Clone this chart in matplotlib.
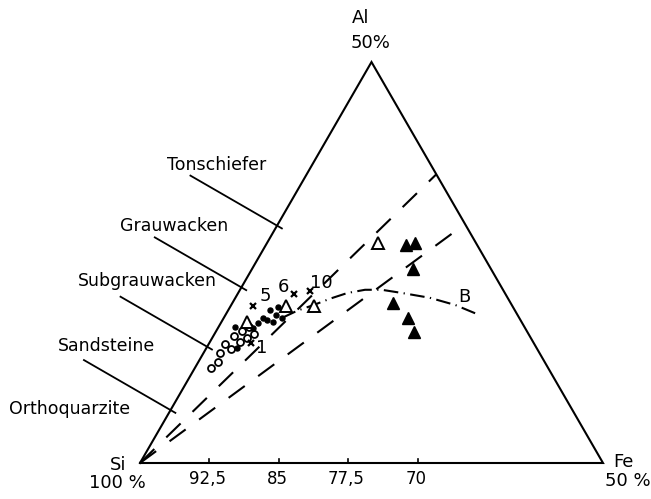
import numpy as np
import matplotlib
matplotlib.use("Agg")
from matplotlib import pyplot as plt

# Ternary diagram Si (100-50 %) - Al (0-50 %) - Fe (0-50 %)
# values are Al % and Fe %

open_circle_al = [11.9, 12.6, 13.7, 14.8, 14.2, 15.8, 15.1, 16.5, 15.6, 17.0, 16.1]
open_circle_fe = [1.7, 2.1, 1.8, 1.8, 2.7, 2.2, 3.3, 2.8, 3.8, 3.3, 4.3]

dot_al = [17.0, 14.3, 16.8, 17.5, 18.1, 17.8, 19.1, 18.5, 19.5, 17.6, 18.1]
dot_fe = [1.8, 3.3, 3.8, 4.0, 4.2, 4.8, 4.5, 5.4, 5.1, 5.6, 6.3]

cross_al = [19.6, 21.1, 21.5, 15.0]
cross_fe = [2.4, 6.1, 7.6, 4.5]
cross_names = ["5", "6", "10", "1"]

open_tri_al = [17.6, 19.6, 19.6, 27.4]
open_tri_fe = [2.8, 6.0, 9.0, 12.0]

filled_tri_al = [27.2, 27.4, 24.2, 20.0, 18.1, 16.3]
filled_tri_fe = [15.1, 16.0, 17.4, 17.3, 19.9, 21.4]

# curve B
curve_b_al = [18.1, 19.0, 19.7, 20.5, 21.2, 21.6, 21.6, 21.2, 20.6, 19.7, 18.5]
curve_b_fe = [6.3, 7.5, 8.9, 10.3, 11.8, 13.5, 15.3, 17.7, 21.0, 24.2, 27.3]

# dashed limit lines: Al % where they meet the Al-Fe side
dash_end_al = [36.0, 29.8]

# rock type boundaries on the Si-Al side (Al %)
rock_names = ["Tonschiefer", "Grauwacken", "Subgrauwacken", "Sandsteine", "Orthoquarzite"]
rock_bound_al = [29.6, 21.9, 14.5, 6.6]

bottom_ticks_si = [92.5, 85, 77.5, 70]
bottom_tick_labels = ["92,5", "85", "77,5", "70"]

S3 = np.sqrt(3) / 2


def tern(al, fe):
    a = np.asarray(al, dtype=float) / 50
    f = np.asarray(fe, dtype=float) / 50
    return f + a / 2, a * S3


def fig_pos(px, py):
    # layout helper: pixel position in the 651x499 picture -> figure fraction
    return px / 651, 1 - py / 499


fig = plt.figure(figsize=(6.51, 4.99), dpi=100)
ax = fig.add_axes([0, 0, 1, 1])
ax.set_xlim(-140 / 463, 511 / 463)
ax.set_ylim(-36 / 463, 1.0)
ax.axis("off")

lw = 1.5
# triangle
tx, ty = tern([0, 50, 0, 0], [0, 0, 50, 0])
ax.plot(tx, ty, color="black", lw=lw, solid_joinstyle="miter")

# bottom ticks
for si in bottom_ticks_si:
    x, y = tern(0, 100 - si)
    ax.plot([x, x], [0, 0.009], color="black", lw=1.2)

# leader lines for rock names (perpendicular to the Si-Al side)
normal = np.array([-S3, 0.5])
for al in rock_bound_al:
    x, y = tern(al, 0)
    p0 = np.array([x, y]) - normal * 0.012
    p1 = np.array([x, y]) + normal * 0.216
    ax.plot([p0[0], p1[0]], [p0[1], p1[1]], color="black", lw=1.3)

text_kw = dict(fontsize=12.5, color="black", family="DejaVu Sans")
rock_text_pos = [(167, 165), (120, 226), (78, 281), (58, 346), (9, 409)]
for name, (px, py) in zip(rock_names, rock_text_pos):
    fig.text(*fig_pos(px, py), name, ha="left", va="center", **text_kw)

# dashed lines from Si corner
for al in dash_end_al:
    x, y = tern([0, al], [0, 50 - al])
    ax.plot(x, y, color="black", lw=lw, dashes=(9.6, 8.0))

# curve B
bx, by = tern(curve_b_al, curve_b_fe)
ax.plot(bx, by, color="black", lw=lw, dashes=(7.0, 2.6, 0.6, 2.6))

# data points
x, y = tern(open_circle_al, open_circle_fe)
ax.plot(x, y, "o", ms=5, mfc="white", mec="black", mew=1.3, ls="none")
x, y = tern(dot_al, dot_fe)
ax.plot(x, y, "o", ms=3.6, color="black", ls="none")
x, y = tern(cross_al, cross_fe)
ax.plot(x, y, "x", ms=5, color="black", mew=1.6, ls="none")
x, y = tern(open_tri_al, open_tri_fe)
ax.plot(x, y, "^", ms=8, mfc="white", mec="black", mew=1.4, ls="none")
x, y = tern(filled_tri_al, filled_tri_fe)
ax.plot(x, y, "^", ms=8.5, color="black", ls="none")

# point numbers
num_pos = [(265, 296), (283, 287), (321, 283), (262, 348)]
for name, (px, py) in zip(cross_names, num_pos):
    fig.text(*fig_pos(px, py), name, ha="center", va="center", fontsize=13)

fig.text(*fig_pos(464, 297), "B", ha="center", va="center", fontsize=13)

# corner labels
fig.text(*fig_pos(361, 18), "Al", ha="center", va="center", fontsize=13)
fig.text(*fig_pos(370, 43), "50%", ha="center", va="center", fontsize=13)
fig.text(*fig_pos(118, 465), "Si", ha="center", va="center", fontsize=13)
fig.text(*fig_pos(117, 483), "100 %", ha="center", va="center", fontsize=13)
fig.text(*fig_pos(623, 462), "Fe", ha="center", va="center", fontsize=13)
fig.text(*fig_pos(628, 481), "50 %", ha="center", va="center", fontsize=13)

# bottom tick labels
for si, lab in zip(bottom_ticks_si, bottom_tick_labels):
    x, _ = tern(0, 100 - si)
    px = 140 + x * 463
    fig.text(*fig_pos(px - 2, 479), lab, ha="center", va="center", fontsize=12)

fig.savefig("out.png", dpi=100)
